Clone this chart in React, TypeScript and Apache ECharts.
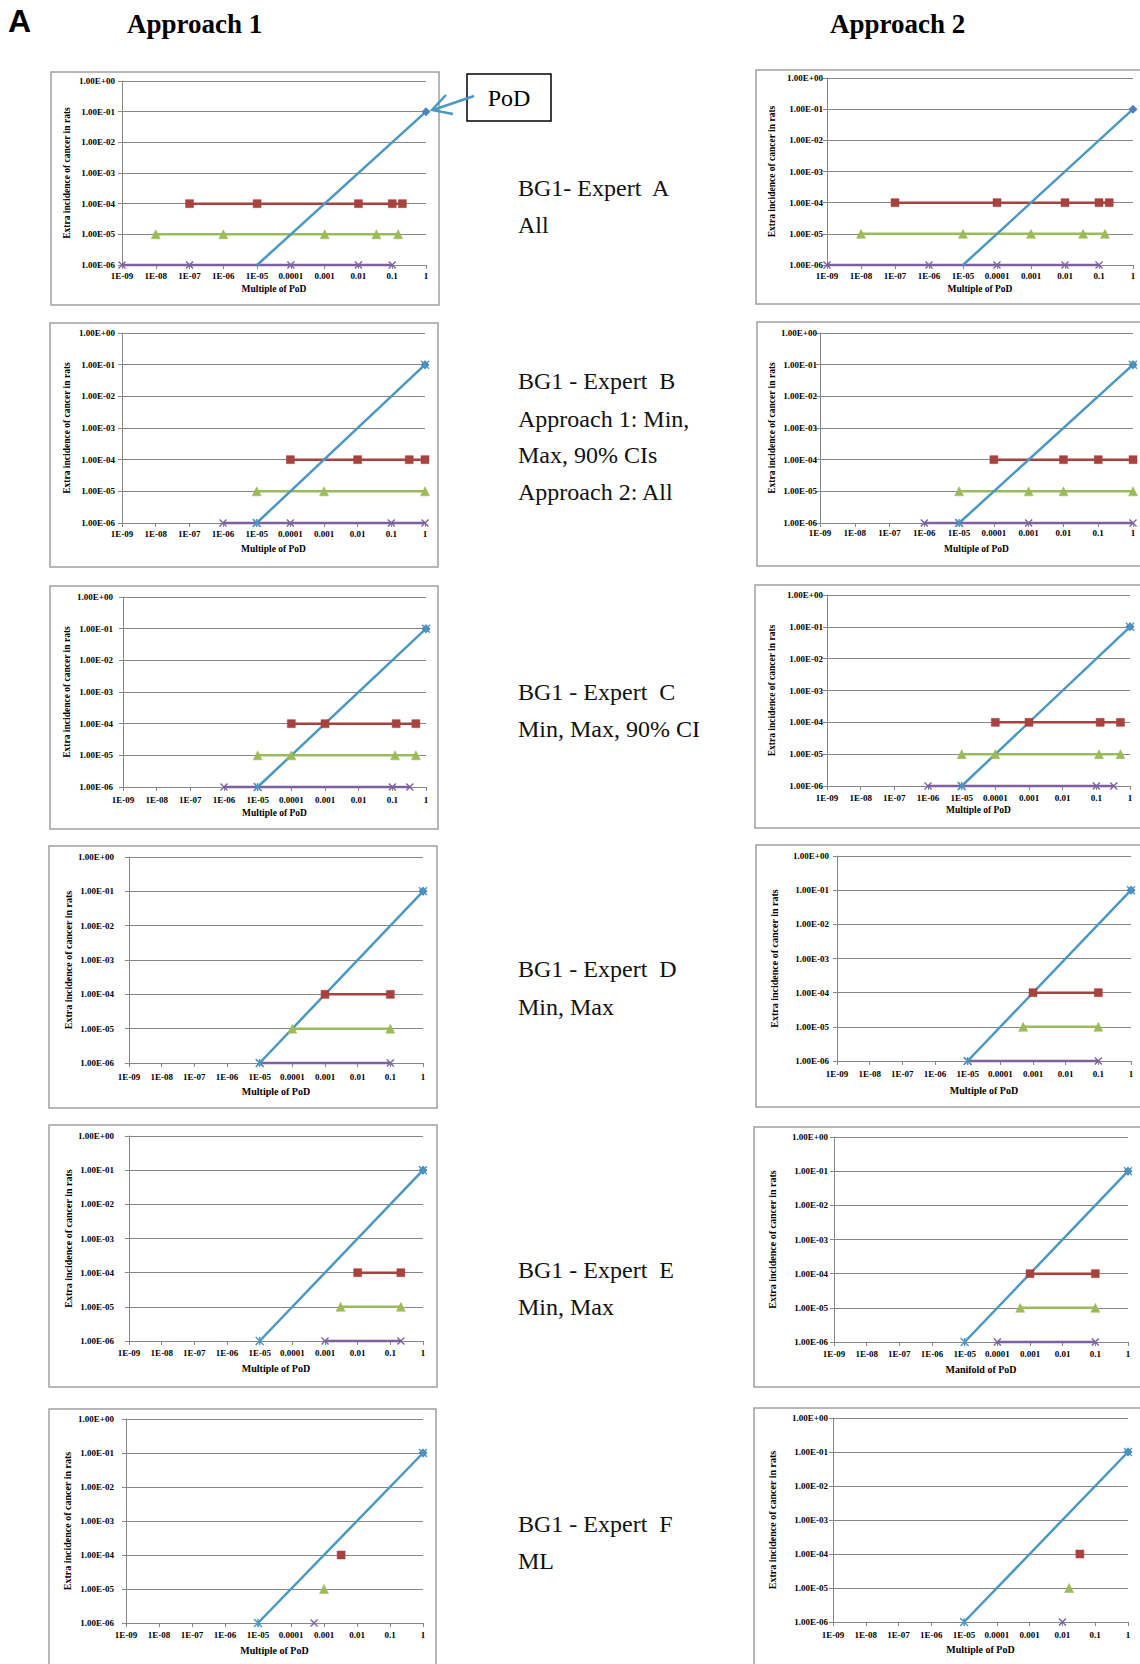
import React, { useEffect, useRef } from 'react';
import * as echarts from 'echarts';

// ---------- data ----------
const X_TICK_LABELS = ['1E-09', '1E-08', '1E-07', '1E-06', '1E-05', '0.0001', '0.001', '0.01', '0.1', '1'];
const Y_TICK_LABELS = ['1.00E-06', '1.00E-05', '1.00E-04', '1.00E-03', '1.00E-02', '1.00E-01', '1.00E+00'];

const PANEL_LETTER = 'A';
const COLUMN_TITLES = ['Approach 1', 'Approach 2'];
const EXPERT_LABELS = [
  ['BG1- Expert\u00a0 A', 'All'],
  ['BG1 - Expert\u00a0 B', 'Approach 1: Min,', 'Max, 90% CIs', 'Approach 2: All'],
  ['BG1 - Expert\u00a0 C', 'Min, Max, 90% CI'],
  ['BG1 - Expert\u00a0 D', 'Min, Max'],
  ['BG1 - Expert\u00a0 E', 'Min, Max'],
  ['BG1 - Expert\u00a0 F', 'ML'],
];
const Y_AXIS_TITLE = 'Extra incidence of cancer in rats';
// per chart, order: A1, A2, B1, B2, ... (approach 1 / approach 2 per expert)
const X_AXIS_TITLES = [
  'Multiple of PoD', 'Multiple of PoD',
  'Multiple of PoD', 'Multiple of PoD',
  'Multiple of PoD', 'Multiple of PoD',
  'Multiple of PoD', 'Multiple of PoD',
  'Multiple of PoD', 'Manifold of PoD',
  'Multiple of PoD', 'Multiple of PoD',
];
const POD_LABEL = 'PoD';

// Levels of extra incidence
const LEVEL_RED = 1e-4;
const LEVEL_GREEN = 1e-5;
const LEVEL_PURPLE = 1e-6;
const POD_POINT: [number, number] = [1, 0.1];
const SLOPE_LINE: [number, number][] = [[1e-5, 1e-6], [1, 0.1]];

// multiples of PoD per expert (approach 1)
const RED_X_APPROACH1 = [
  [1e-7, 1e-5, 0.01, 0.1, 0.2],
  [1e-4, 0.01, 0.34, 1],
  [1e-4, 0.001, 0.13, 0.5],
  [0.001, 0.1],
  [0.01, 0.21],
  [0.0033],
];
const GREEN_X_APPROACH1 = [
  [1e-8, 1e-6, 0.001, 0.034, 0.15],
  [1e-5, 0.001, 1],
  [1e-5, 1e-4, 0.12, 0.5],
  [1e-4, 0.1],
  [0.003, 0.21],
  [0.001],
];
const PURPLE_X_APPROACH1 = [
  [1e-9, 1e-7, 1e-4, 0.01, 0.1],
  [1e-6, 1e-5, 1e-4, 0.1, 1],
  [1e-6, 1e-5, 0.1, 0.33],
  [1e-5, 0.1],
  [0.001, 0.21],
  [0.0005],
];
// multiples of PoD per expert (approach 2)
const RED_X_APPROACH2 = [
  [1e-7, 1e-4, 0.01, 0.1, 0.2],
  [1e-4, 0.01, 0.1, 1],
  [1e-4, 0.001, 0.13, 0.52],
  [0.001, 0.1],
  [0.001, 0.1],
  [0.034],
];
const GREEN_X_APPROACH2 = [
  [1e-8, 1e-5, 0.001, 0.034, 0.15],
  [1e-5, 0.001, 0.01, 1],
  [1e-5, 1e-4, 0.12, 0.52],
  [0.0005, 0.1],
  [0.0005, 0.1],
  [0.016],
];
const PURPLE_X_APPROACH2 = [
  [1e-9, 1e-6, 1e-4, 0.01, 0.1],
  [1e-6, 1e-5, 0.001, 1],
  [1e-6, 1e-5, 0.1, 0.33],
  [1e-5, 0.1],
  [1e-4, 0.1],
  [0.01],
];

// ---------- layout / style ----------
const SERIF = '"Times New Roman", "Liberation Serif", "DejaVu Serif", serif';
const SANS = 'Arial, "Liberation Sans", Helvetica, sans-serif';
const C = {
  pod: '#4F81BD',
  red: '#A8423F',
  green: '#9BBB59',
  purple: '#7D60A0',
  slope: '#4A98C2',
  grid: '#878787',
  box: '#A0A0A0',
  text: '#111111',
};

type Panel = {
  box: [number, number, number, number];
  plot: [number, number, number, number];
  yM: number; // y label margin
  xM: number; // x label margin
  xN: number; // x name gap
  yNX: number; // y name center x
  fs: number; // label font size
  nfs: number; // name font size
  slopeMarks: boolean;
};

const PANELS: Panel[] = [
  { box: [51, 72, 388, 233], plot: [122, 81, 304, 184], yM: 7, xM: 6, xN: 19, yNX: 67, fs: 9, nfs: 9.5, slopeMarks: false },
  { box: [756, 70, 420, 234], plot: [827, 78, 306, 187], yM: 4, xM: 6, xN: 19, yNX: 772, fs: 9, nfs: 9.5, slopeMarks: false },
  { box: [50, 323, 388, 244], plot: [122, 333, 303, 190], yM: 7, xM: 6, xN: 21, yNX: 67, fs: 9, nfs: 9.5, slopeMarks: true },
  { box: [757, 322, 420, 244], plot: [820, 333, 313, 190], yM: 3, xM: 5, xN: 21, yNX: 772, fs: 9, nfs: 9.5, slopeMarks: true },
  { box: [50, 586, 388, 243], plot: [123, 597, 303, 190], yM: 10, xM: 8, xN: 21, yNX: 67, fs: 9, nfs: 9.5, slopeMarks: true },
  { box: [755, 585, 420, 243], plot: [827, 595, 303, 191], yM: 4, xM: 7, xN: 19, yNX: 772, fs: 9, nfs: 9.5, slopeMarks: true },
  { box: [49, 846, 388, 262], plot: [129, 857, 294, 206], yM: 15, xM: 9, xN: 23, yNX: 68, fs: 9, nfs: 10, slopeMarks: true },
  { box: [756, 845, 420, 262], plot: [837, 856, 294, 205], yM: 8, xM: 8, xN: 24, yNX: 774, fs: 9, nfs: 10, slopeMarks: true },
  { box: [49, 1125, 388, 262], plot: [129, 1136, 294, 205], yM: 15, xM: 7, xN: 22, yNX: 68, fs: 9, nfs: 10, slopeMarks: true },
  { box: [754, 1127, 420, 260], plot: [834, 1137, 294, 205], yM: 6, xM: 7, xN: 22, yNX: 772, fs: 9, nfs: 10, slopeMarks: true },
  { box: [49, 1409, 387, 280], plot: [126, 1419, 297, 204], yM: 12, xM: 7, xN: 22, yNX: 67, fs: 9, nfs: 10, slopeMarks: true },
  { box: [754, 1408, 420, 280], plot: [833, 1418, 295, 204], yM: 5, xM: 8, xN: 22, yNX: 772, fs: 9, nfs: 10, slopeMarks: true },
];

const EXPERT_TEXT_X = 518;
const EXPERT_TEXT_Y = [
  [188, 225],
  [381, 419, 455, 492],
  [692, 729],
  [969, 1007],
  [1270, 1307],
  [1524, 1561],
];

const X_MARK = 'path://M0,0L10,10M10,0L0,10';
const STAR_MARK = 'path://M0,0L10,10M10,0L0,10M5,0L5,10';

function buildOption() {
  const grids: any[] = [];
  const xAxes: any[] = [];
  const yAxes: any[] = [];
  const series: any[] = [];
  const graphics: any[] = [];

  PANELS.forEach((p, i) => {
    const expert = Math.floor(i / 2);
    const approach = i % 2;
    const redX = (approach === 0 ? RED_X_APPROACH1 : RED_X_APPROACH2)[expert];
    const greenX = (approach === 0 ? GREEN_X_APPROACH1 : GREEN_X_APPROACH2)[expert];
    const purpleX = (approach === 0 ? PURPLE_X_APPROACH1 : PURPLE_X_APPROACH2)[expert];

    graphics.push({
      type: 'rect',
      z: -10,
      shape: { x: p.box[0], y: p.box[1], width: p.box[2], height: p.box[3] },
      style: { fill: '#fff', stroke: C.box, lineWidth: 1.5 },
      silent: true,
    });

    grids.push({
      left: p.plot[0],
      top: p.plot[1],
      width: p.plot[2],
      height: p.plot[3],
      containLabel: false,
      outerBoundsMode: 'none',
    });

    const labelStyle = {
      fontSize: p.fs,
      fontWeight: 'bold',
      fontFamily: SERIF,
      color: '#000',
    };

    xAxes.push({
      gridIndex: i,
      type: 'log',
      logBase: 10,
      min: 1e-9,
      max: 1,
      splitNumber: 9,
      axisLine: { show: true, onZero: false, lineStyle: { color: C.grid, width: 1 } },
      axisTick: { show: true, inside: false, length: 4, lineStyle: { color: C.grid, width: 1 } },
      minorTick: { show: false },
      splitLine: { show: false },
      minorSplitLine: { show: false },
      axisLabel: {
        ...labelStyle,
        margin: p.xM,
        showMinLabel: true,
        showMaxLabel: true,
        hideOverlap: false,
        formatter: (v: number) => X_TICK_LABELS[Math.round(Math.log10(v)) + 9] ?? '',
      },
      name: X_AXIS_TITLES[i],
      nameLocation: 'middle',
      nameGap: p.xN,
      nameTextStyle: { fontSize: p.nfs, fontWeight: 'bold', fontFamily: SERIF, color: '#000' },
    });

    yAxes.push({
      gridIndex: i,
      type: 'log',
      logBase: 10,
      min: 1e-6,
      max: 1,
      splitNumber: 6,
      axisLine: { show: true, onZero: false, lineStyle: { color: C.grid, width: 1 } },
      axisTick: { show: true, inside: false, length: 4, lineStyle: { color: C.grid, width: 1 } },
      minorTick: { show: false },
      splitLine: { show: true, lineStyle: { color: C.grid, width: 1 } },
      minorSplitLine: { show: false },
      axisLabel: {
        ...labelStyle,
        margin: p.yM,
        showMinLabel: true,
        showMaxLabel: true,
        hideOverlap: false,
        formatter: (v: number) => Y_TICK_LABELS[Math.round(Math.log10(v)) + 6] ?? '',
      },
      name: Y_AXIS_TITLE,
      nameLocation: 'middle',
      nameRotate: 90,
      nameGap: p.plot[0] - p.yNX - 5,
      nameTextStyle: { fontSize: p.nfs, fontWeight: 'bold', fontFamily: SERIF, color: '#000' },
    });

    const common = {
      type: 'line',
      xAxisIndex: i,
      yAxisIndex: i,
      clip: false,
      silent: true,
      showSymbol: true,
      showAllSymbol: true,
      emphasis: { disabled: true },
    };

    series.push({
      ...common,
      name: `red-${i}`,
      data: redX.map((x) => [x, LEVEL_RED]),
      symbol: 'rect',
      symbolSize: 8,
      lineStyle: { color: C.red, width: 2.5 },
      itemStyle: { color: C.red, borderColor: C.red, borderWidth: 0.5 },
    });
    series.push({
      ...common,
      name: `green-${i}`,
      data: greenX.map((x) => [x, LEVEL_GREEN]),
      symbol: 'triangle',
      symbolSize: 9,
      lineStyle: { color: C.green, width: 2.5 },
      itemStyle: { color: C.green, borderColor: C.green, borderWidth: 0.5 },
    });
    series.push({
      ...common,
      name: `purple-${i}`,
      data: purpleX.map((x) => [x, LEVEL_PURPLE]),
      symbol: X_MARK,
      symbolSize: 7,
      lineStyle: { color: C.purple, width: 2.5 },
      itemStyle: { color: C.purple, borderColor: C.purple, borderWidth: 1.4 },
    });
    series.push({
      ...common,
      name: `pod-${i}`,
      data: [POD_POINT],
      symbol: 'diamond',
      symbolSize: 9,
      lineStyle: { width: 0 },
      itemStyle: { color: C.pod },
    });
    series.push({
      ...common,
      name: `slope-${i}`,
      data: SLOPE_LINE,
      symbol: p.slopeMarks ? STAR_MARK : 'none',
      symbolSize: 8,
      lineStyle: { color: C.slope, width: 2.5 },
      itemStyle: { color: C.slope, borderColor: C.slope, borderWidth: 1.4 },
    });
  });

  // headers
  graphics.push({
    type: 'text',
    x: 8,
    y: 21,
    style: { text: PANEL_LETTER, font: `bold 32px ${SANS}`, fill: '#000', textVerticalAlign: 'middle', verticalAlign: 'middle' },
  });
  graphics.push({
    type: 'text',
    x: 127,
    y: 24,
    style: { text: COLUMN_TITLES[0], font: `bold 27px ${SERIF}`, fill: '#000', textVerticalAlign: 'middle', verticalAlign: 'middle' },
  });
  graphics.push({
    type: 'text',
    x: 830,
    y: 24,
    style: { text: COLUMN_TITLES[1], font: `bold 27px ${SERIF}`, fill: '#000', textVerticalAlign: 'middle', verticalAlign: 'middle' },
  });

  // expert labels
  EXPERT_LABELS.forEach((lines, e) => {
    lines.forEach((t, k) => {
      graphics.push({
        type: 'text',
        x: EXPERT_TEXT_X,
        y: EXPERT_TEXT_Y[e][k],
        style: { text: t, font: `24px ${SERIF}`, fill: C.text, textVerticalAlign: 'middle', verticalAlign: 'middle' },
      });
    });
  });

  // PoD callout
  graphics.push({
    type: 'rect',
    shape: { x: 467, y: 74, width: 84, height: 47 },
    style: { fill: '#fff', stroke: '#000', lineWidth: 1.5 },
  });
  graphics.push({
    type: 'text',
    x: 509,
    y: 98,
    style: { text: POD_LABEL, font: `24px ${SERIF}`, fill: '#000', align: 'center', verticalAlign: 'middle', textAlign: 'center', textVerticalAlign: 'middle' },
  });
  graphics.push({
    type: 'line',
    shape: { x1: 474, y1: 96, x2: 433, y2: 110 },
    style: { stroke: C.slope, lineWidth: 2.5 },
  });
  graphics.push({
    type: 'polyline',
    shape: { points: [[446, 95], [432, 110], [453, 114]] },
    style: { stroke: C.slope, lineWidth: 2.5, fill: 'none' },
  });

  return {
    animation: false,
    backgroundColor: '#fff',
    grid: grids,
    xAxis: xAxes,
    yAxis: yAxes,
    series,
    graphic: { elements: graphics },
  };
}

export default function App() {
  const ref = useRef<HTMLDivElement>(null);
  useEffect(() => {
    if (!ref.current) return;
    const chart = echarts.init(ref.current, null, { renderer: 'svg' });
    chart.setOption(buildOption() as any);
    return () => {
      chart.dispose();
    };
  }, []);
  return (
    <div
      ref={ref}
      style={{ position: 'absolute', left: 0, top: 0, width: 1140, height: 1664, background: '#fff' }}
    />
  );
}
